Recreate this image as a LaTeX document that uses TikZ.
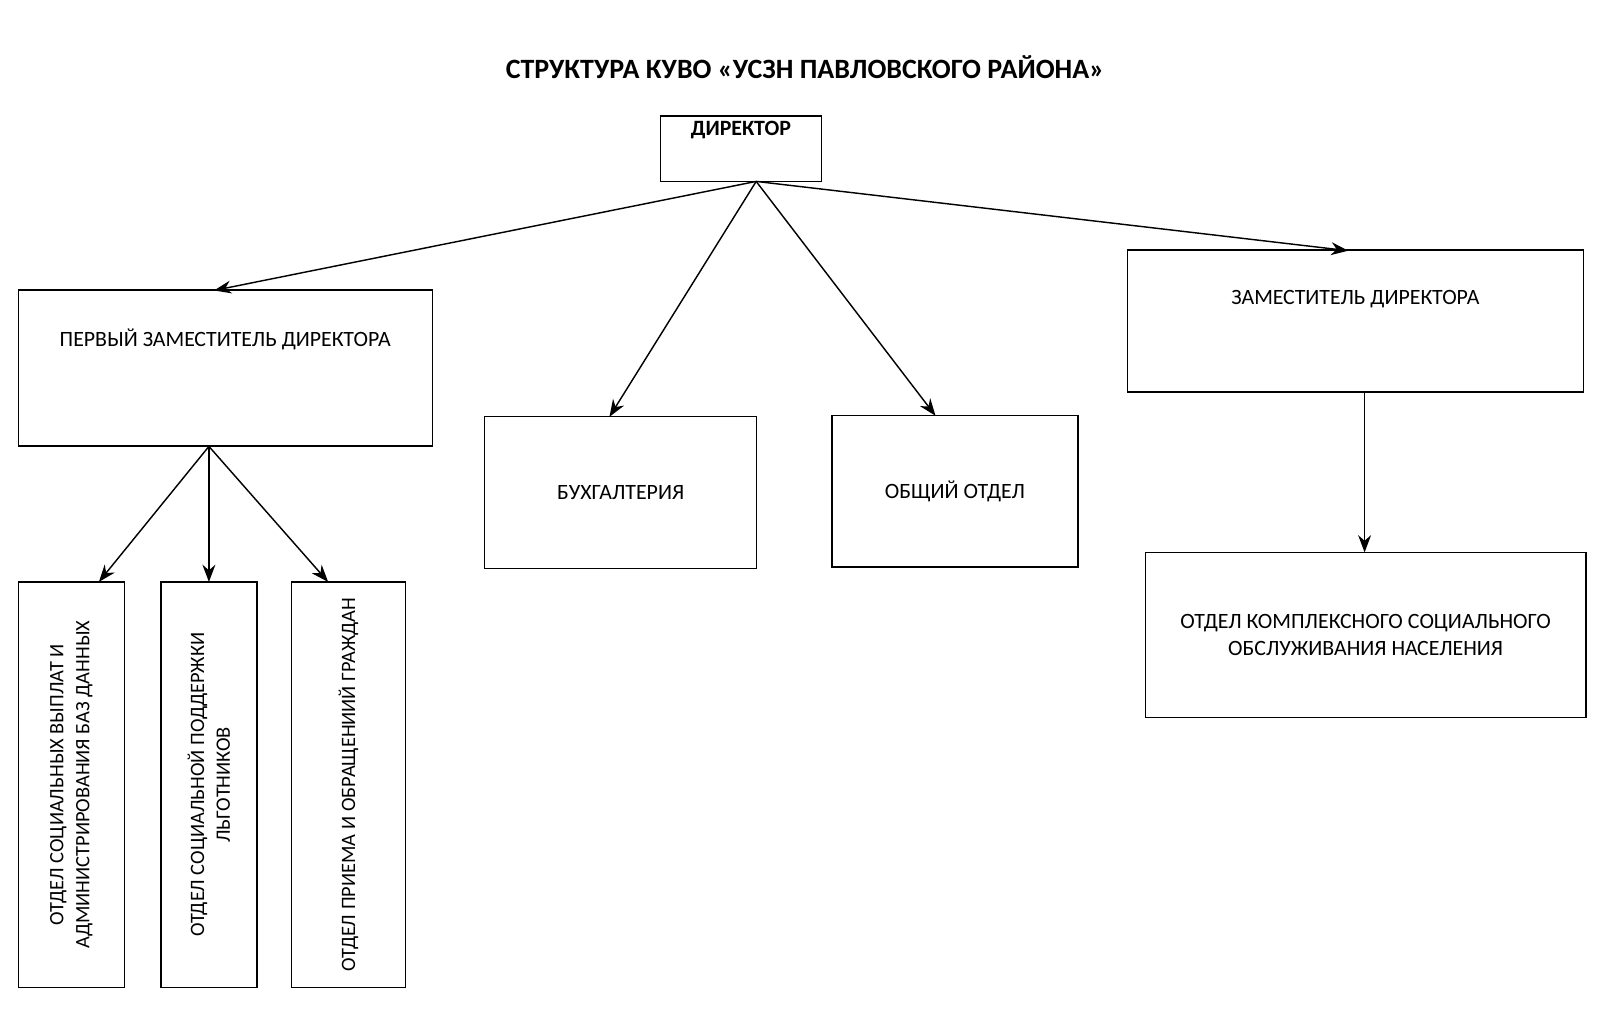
\documentclass[tikz,border=0pt]{standalone}
\usepackage{fontspec}
\setmainfont{Carlito}
\usetikzlibrary{positioning,calc,arrows.meta}

\begin{document}
\begin{tikzpicture}
[x=0.01cm,y=-0.01cm,->,>=Stealth,thin,
box/.style={draw,rectangle,font=\fontsize{6.1}{7.5}\selectfont,align=center,inner sep=0pt},
vbox/.style={draw,rectangle,font=\fontsize{5.7}{7.2}\selectfont,align=center,inner sep=0pt}]

\node (title) at (790,66) {\fontsize{7.8}{9}\selectfont\bfseries СТРУКТУРА КУВО «УСЗН ПАВЛОВСКОГО РАЙОНА»};

\node (dir) at (727,146) [box,minimum width=1.58cm,minimum height=0.64cm] {};
\node at (727,128) [font=\fontsize{6.1}{7.5}\selectfont\bfseries] {ДИРЕКТОР};

\node (fd) at (221,361) [box,minimum width=4.06cm,minimum height=1.53cm] {};
\node at (221,333) [font=\fontsize{6.1}{7.5}\selectfont] {ПЕРВЫЙ ЗАМЕСТИТЕЛЬ ДИРЕКТОРА};

\node (buh) at (609,483) [box,minimum width=2.67cm,minimum height=1.49cm] {БУХГАЛТЕРИЯ};
\node (obsh) at (937,482) [box,minimum width=2.41cm,minimum height=1.49cm] {ОБЩИЙ ОТДЕЛ};

\node (zd) at (1330,315) [box,minimum width=4.47cm,minimum height=1.39cm] {};
\node at (1330,293) [font=\fontsize{6.1}{7.5}\selectfont] {ЗАМЕСТИТЕЛЬ ДИРЕКТОРА};

\node (kso) at (1340,623) [box,minimum width=4.32cm,minimum height=1.62cm]
  {ОТДЕЛ КОМПЛЕКСНОГО СОЦИАЛЬНОГО\\ОБСЛУЖИВАНИЯ НАСЕЛЕНИЯ};

% vertical departments
\node (sv) at (70,770) [vbox,rotate=90,minimum width=3.98cm,minimum height=1.04cm]
  {ОТДЕЛ СОЦИАЛЬНЫХ ВЫПЛАТ И\\АДМИНИСТРИРОВАНИЯ БАЗ ДАННЫХ};
\node (sp) at (205,770) [vbox,rotate=90,minimum width=3.98cm,minimum height=0.94cm]
  {ОТДЕЛ СОЦИАЛЬНОЙ ПОДДЕРЖКИ\\ЛЬГОТНИКОВ};
\node (po) at (342,770) [vbox,rotate=90,minimum width=3.98cm,minimum height=1.12cm]
  {ОТДЕЛ ПРИЕМА И ОБРАЩЕНИИЙ ГРАЖДАН};

\coordinate (d0) at (742,178);
\coordinate (f0) at (205,438);
\draw (d0) -- (210,285);
\draw (d0) -- (598,409);
\draw (d0) -- (918,408);
\draw (d0) -- (1323,246);
\draw (f0) -- (97,571);
\draw (f0) -- (205,571);
\draw (f0) -- (322,571);
\draw (1339,385) -- (1339,542);

\pgfresetboundingbox
\useasboundingbox (0,0) rectangle (1570,993);
\end{tikzpicture}
\end{document}
